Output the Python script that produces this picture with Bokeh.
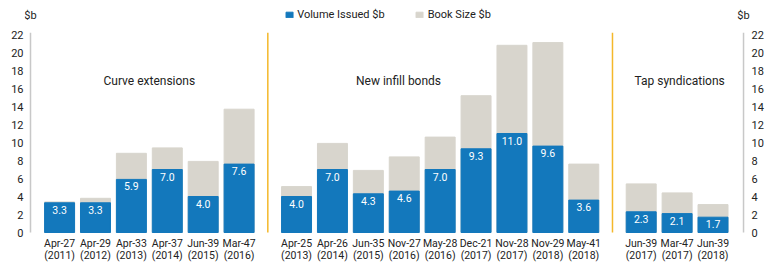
from bokeh.plotting import figure
from bokeh.models import (ColumnDataSource, LinearAxis, FixedTicker, Range1d,
                          Legend, LegendItem)
from bokeh.core.properties import value
from bokeh.embed import file_html
from bokeh.resources import INLINE

# ---- data ----
bonds = ["Apr-27", "Apr-29", "Apr-33", "Apr-37", "Jun-39", "Mar-47",
         "Apr-25", "Apr-26", "Jun-35", "Nov-27", "May-28", "Dec-21", "Nov-28", "Nov-29", "May-41",
         "Jun-39", "Mar-47", "Jun-39"]
years = ["2011", "2012", "2013", "2014", "2015", "2016",
         "2013", "2014", "2015", "2016", "2016", "2017", "2017", "2018", "2018",
         "2017", "2017", "2018"]
group_of = [0, 0, 0, 0, 0, 0,
            1, 1, 1, 1, 1, 1, 1, 1, 1,
            2, 2, 2]
volume_issued = [3.3, 3.3, 5.9, 7.0, 4.0, 7.6,
                 4.0, 7.0, 4.3, 4.6, 7.0, 9.3, 11.0, 9.6, 3.6,
                 2.3, 2.1, 1.7]
book_size = [3.4, 3.8, 8.8, 9.4, 7.9, 13.7,
             5.1, 9.9, 6.9, 8.4, 10.6, 15.2, 20.8, 21.1, 7.6,
             5.4, 4.4, 3.1]
group_names = ["Curve extensions", "New infill bonds", "Tap syndications"]
y_ticks = list(range(0, 23, 2))
unit_label = "$b"

# ---- layout ----
SLOT = 5
GAP = 3
FONT = "Roboto"
BLUE = "#1378BC"
GREY = "#D8D5CD"
ORANGE = "#F4B82A"
AXIS_GREY = "#C8C8C8"
TXT = "#222222"
AX0, AX1 = -4.05, 95.25          # where the axis lines sit
Y_TOP = 22.2

xs = [SLOT * i + GAP * g for i, g in enumerate(group_of)]
labels = [f"{v:.1f}" for v in volume_issued]
src = ColumnDataSource(dict(x=xs, vol=volume_issued, book=book_size, lab=labels,
                            bond=bonds, yr=[f"({y})" for y in years]))

p = figure(width=766, height=276, output_backend="svg", toolbar_location=None,
           x_range=Range1d(-4.886, 96.36), y_range=Range1d(-4.0, 24.889),
           min_border_left=24, min_border_right=15, min_border_top=8, min_border_bottom=8,
           x_axis_location=None, y_axis_location=None)
p.outline_line_color = None
p.xgrid.visible = False
p.ygrid.visible = False
p.background_fill_color = "white"
p.border_fill_color = "white"

bw = 0.835 * SLOT
r_book = p.vbar(x="x", top="book", width=bw, color=GREY, source=src)
r_vol = p.vbar(x="x", top="vol", width=bw, color=BLUE, source=src)

p.text(x="x", y="vol", text="lab", source=src, text_color="white",
       text_font=value(FONT), text_font_size="10.5px", text_align="center",
       text_baseline="top", y_offset=3)

# category labels under the bars
p.text(x="x", y=0, text="bond", source=src, text_color=TXT, text_font=value(FONT),
       text_font_size="10.5px", text_align="center", text_baseline="middle", y_offset=11)
p.text(x="x", y=0, text="yr", source=src, text_color=TXT, text_font=value(FONT),
       text_font_size="10.5px", text_align="center", text_baseline="middle", y_offset=23)

# axis lines
p.segment(x0=[AX0, AX1], y0=[0, 0], x1=[AX0, AX1], y1=[Y_TOP, Y_TOP],
          line_color=AXIS_GREY, line_width=1.5)

# unit labels
p.text(x=[AX0, AX1], y=[Y_TOP, Y_TOP], text=[unit_label, unit_label], text_color=TXT,
       text_font=value(FONT), text_font_size="11px", text_align="center",
       text_baseline="middle", y_offset=-17)

# group separators
sep_x = []
for g in range(len(group_names) - 1):
    last = max(x for x, gg in zip(xs, group_of) if gg == g)
    first = min(x for x, gg in zip(xs, group_of) if gg == g + 1)
    sep_x.append((last + first) / 2)
p.segment(x0=sep_x, y0=[0] * len(sep_x), x1=sep_x, y1=[Y_TOP] * len(sep_x),
          line_color=ORANGE, line_width=1.5)

# group titles
title_x = [12.5, 47.2, 86.35]
p.text(x=title_x, y=[16.8] * 3, text=group_names, text_color=TXT, text_font=value(FONT),
       text_font_size="12px", text_align="center", text_baseline="middle")

# y axes
def yaxis(standoff):
    ax = LinearAxis(ticker=FixedTicker(ticks=y_ticks))
    ax.axis_line_color = None
    ax.major_tick_line_color = None
    ax.minor_tick_line_color = None
    ax.major_tick_out = 0
    ax.major_label_text_font = FONT
    ax.major_label_text_font_size = "11px"
    ax.major_label_text_color = TXT
    ax.major_label_standoff = standoff
    return ax

p.add_layout(yaxis(1), "left")
p.add_layout(yaxis(0), "right")

legend = Legend(items=[LegendItem(label="Volume Issued $b", renderers=[r_vol]),
                       LegendItem(label="Book Size $b", renderers=[r_book])],
                orientation="horizontal", location="top_center",
                label_text_font=FONT, label_text_font_size="11px", label_text_color=TXT,
                glyph_width=9, glyph_height=7, label_standoff=4, spacing=30,
                padding=0, margin=0, border_line_color=None, background_fill_alpha=0)
p.add_layout(legend)

open("out.html", "w").write(file_html(p, INLINE))
